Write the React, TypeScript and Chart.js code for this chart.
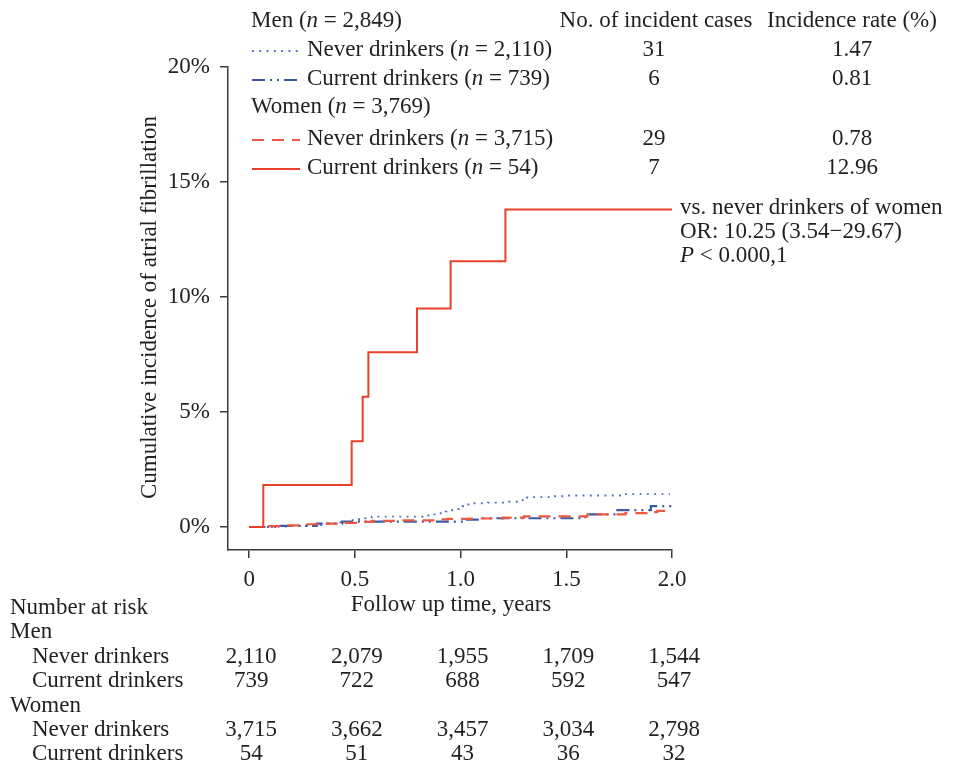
import React, { useEffect, useRef } from 'react';
import { Chart, registerables } from 'chart.js';
Chart.register(...registerables);

// ---- Data ----
const xTickValues = [0, 0.5, 1.0, 1.5, 2.0];
const yTickValues = [0, 5, 10, 15, 20];

// Women, current drinkers (cumulative incidence, %)
const womenCurrentT = [0, 0.067, 0.485, 0.537, 0.564, 0.794, 0.953, 1.212, 2.0];
const womenCurrentV = [0, 1.83, 3.73, 5.66, 7.6, 9.5, 11.55, 13.8, 13.8];
// Women, never drinkers
const womenNeverT = [0, 0.07, 0.18, 0.26, 0.34, 0.44, 0.52, 0.58, 0.7, 0.88, 0.94, 1.05, 1.2, 1.3, 1.6, 1.78, 1.88, 1.93, 2.0];
const womenNeverV = [0, 0.04, 0.07, 0.12, 0.15, 0.18, 0.22, 0.27, 0.29, 0.33, 0.35, 0.37, 0.41, 0.46, 0.55, 0.6, 0.65, 0.7, 0.7];
// Men, current drinkers
const menCurrentT = [0, 0.15, 0.32, 0.44, 1.03, 1.09, 1.59, 1.735, 1.9, 2.0];
const menCurrentV = [0, 0.05, 0.15, 0.23, 0.32, 0.38, 0.55, 0.73, 0.91, 0.91];
// Men, never drinkers
const menNeverT = [0, 0.12, 0.2, 0.28, 0.36, 0.42, 0.47, 0.52, 0.58, 0.82, 0.86, 0.89, 0.93, 0.96, 0.99, 1.01, 1.03, 1.06, 1.13, 1.23, 1.27, 1.3, 1.33, 1.43, 1.5, 1.77, 1.99];
const menNeverV = [0, 0.02, 0.05, 0.08, 0.15, 0.2, 0.3, 0.38, 0.45, 0.5, 0.55, 0.6, 0.67, 0.73, 0.78, 0.9, 0.98, 1.03, 1.06, 1.1, 1.16, 1.28, 1.3, 1.34, 1.37, 1.43, 1.43];

// Legend / summary table
const groupHeaders = ['Men', 'Women'];
const groupN = ['2,849', '3,769'];
const seriesLabels = ['Never drinkers', 'Current drinkers', 'Never drinkers', 'Current drinkers'];
const seriesN = ['2,110', '739', '3,715', '54'];
const incidentCases = ['31', '6', '29', '7'];
const incidenceRates = ['1.47', '0.81', '0.78', '12.96'];

// Number at risk
const riskMenNever = ['2,110', '2,079', '1,955', '1,709', '1,544'];
const riskMenCurrent = ['739', '722', '688', '592', '547'];
const riskWomenNever = ['3,715', '3,662', '3,457', '3,034', '2,798'];
const riskWomenCurrent = ['54', '51', '43', '36', '32'];

const annotationLines = ['vs. never drinkers of women', 'OR: 10.25 (3.54\u221229.67)'];
const pValueText = ' < 0.000,1';

// ---- Styles ----
const FONT = '"Liberation Serif", "Times New Roman", serif';
const FS = 23;
const TEXT = '#231f20';
const AXIS = '#3a3a3a';
const RED = '#e8402a';
const RED_DASH = '#ee5840';
const BLUE_DD = '#3b5aa6';
const BLUE_DOT = '#4b6cc4';

const seriesStyles = [
  { color: BLUE_DOT, dash: [1.8, 5.5], width: 1.9 },
  { color: BLUE_DD, dash: [13, 5, 2, 5, 2, 5], width: 2.2 },
  { color: RED_DASH, dash: [12, 8], width: 2.2 },
  { color: RED, dash: [], width: 2 },
];

type Run = { t: string; i?: boolean };

function font(italic?: boolean) {
  return `${italic ? 'italic ' : ''}${FS}px ${FONT}`;
}

function drawRuns(ctx: CanvasRenderingContext2D, runs: Run[], x: number, y: number, align: 'left' | 'center' = 'left') {
  let total = 0;
  for (const r of runs) {
    ctx.font = font(r.i);
    total += ctx.measureText(r.t).width;
  }
  let cx = align === 'center' ? x - total / 2 : x;
  ctx.textAlign = 'left';
  ctx.textBaseline = 'middle';
  ctx.fillStyle = TEXT;
  for (const r of runs) {
    ctx.font = font(r.i);
    ctx.fillText(r.t, cx, y);
    cx += ctx.measureText(r.t).width;
  }
}

const textPlugin = {
  id: 'textPlugin',
  afterDraw(chart: any) {
    const ctx: CanvasRenderingContext2D = chart.ctx;
    const xs = chart.scales.x;
    const ys = chart.scales.y;
    const area = chart.chartArea;
    ctx.save();

    // Legend block
    const rowY = [21, 50, 79, 107, 139, 168];
    const legendX = 251;
    const sampleX0 = 252, sampleX1 = 300, labelX = 307;
    const casesX = 656, rateX = 852;
    drawRuns(ctx, [{ t: groupHeaders[0] + ' (' }, { t: 'n', i: true }, { t: ' = ' + groupN[0] + ')' }], legendX, rowY[0]);
    drawRuns(ctx, [{ t: 'No. of incident cases' }], casesX, rowY[0], 'center');
    drawRuns(ctx, [{ t: 'Incidence rate (%)' }], rateX, rowY[0], 'center');
    drawRuns(ctx, [{ t: groupHeaders[1] + ' (' }, { t: 'n', i: true }, { t: ' = ' + groupN[1] + ')' }], legendX, rowY[3]);
    const seriesRows = [rowY[1], rowY[2], rowY[4], rowY[5]];
    seriesRows.forEach((y, k) => {
      const st = seriesStyles[k];
      ctx.save();
      ctx.strokeStyle = st.color;
      ctx.lineWidth = st.width;
      ctx.setLineDash(st.dash);
      ctx.beginPath();
      ctx.moveTo(sampleX0, y + 1);
      ctx.lineTo(sampleX1, y + 1);
      ctx.stroke();
      ctx.restore();
      drawRuns(ctx, [{ t: seriesLabels[k] + ' (' }, { t: 'n', i: true }, { t: ' = ' + seriesN[k] + ')' }], labelX, y);
      drawRuns(ctx, [{ t: incidentCases[k] }], casesX - 2, y, 'center');
      drawRuns(ctx, [{ t: incidenceRates[k] }], rateX, y, 'center');
    });

    // Annotation
    const annX = 680;
    const annY0 = ys.getPixelForValue(womenCurrentV[womenCurrentV.length - 1]) - 2;
    drawRuns(ctx, [{ t: annotationLines[0] }], annX, annY0);
    drawRuns(ctx, [{ t: annotationLines[1] }], annX, annY0 + 24);
    drawRuns(ctx, [{ t: 'P', i: true }, { t: pValueText }], annX, annY0 + 48);

    // Axis titles
    drawRuns(ctx, [{ t: 'Follow up time, years' }], 451, 605, 'center');
    ctx.save();
    ctx.translate(150, (area.top + area.bottom) / 2 - 1);
    ctx.rotate(-Math.PI / 2);
    drawRuns(ctx, [{ t: 'Cumulative incidence of atrial fibrillation' }], 0, 0, 'center');
    ctx.restore();

    // Number at risk table
    const riskRows: { label: string; x: number; y: number; vals?: string[] }[] = [
      { label: 'Number at risk', x: 10, y: 608 },
      { label: 'Men', x: 10, y: 632 },
      { label: 'Never drinkers', x: 32, y: 657, vals: riskMenNever },
      { label: 'Current drinkers', x: 32, y: 681, vals: riskMenCurrent },
      { label: 'Women', x: 10, y: 706 },
      { label: 'Never drinkers', x: 32, y: 730, vals: riskWomenNever },
      { label: 'Current drinkers', x: 32, y: 754, vals: riskWomenCurrent },
    ];
    riskRows.forEach((r) => {
      drawRuns(ctx, [{ t: r.label }], r.x, r.y);
      if (r.vals) {
        r.vals.forEach((v, i) => {
          drawRuns(ctx, [{ t: v }], xs.getPixelForValue(xTickValues[i]) + 2, r.y, 'center');
        });
      }
    });
    ctx.restore();
  },
};

function mk(t: number[], v: number[]) {
  return t.map((tt, i) => ({ x: tt, y: v[i] }));
}

export default function App() {
  const ref = useRef<HTMLCanvasElement | null>(null);
  useEffect(() => {
    if (!ref.current) return;
    const ds = (data: any, k: number, order: number) => ({
      data,
      stepped: true,
      borderColor: seriesStyles[k].color,
      borderWidth: seriesStyles[k].width,
      borderDash: seriesStyles[k].dash,
      pointRadius: 0,
      fill: false,
      tension: 0,
      order,
    });
    const chart = new Chart(ref.current, {
      type: 'line',
      data: {
        datasets: [
          ds(mk(womenCurrentT, womenCurrentV), 3, 0),
          ds(mk(womenNeverT, womenNeverV), 2, 1),
          ds(mk(menCurrentT, menCurrentV), 1, 2),
          ds(mk(menNeverT, menNeverV), 0, 3),
        ],
      },
      options: {
        responsive: false,
        animation: false,
        events: [],
        layout: { padding: { left: 0, top: 67, right: 281, bottom: 0 } },
        plugins: { legend: { display: false }, tooltip: { enabled: false } },
        scales: {
          x: {
            type: 'linear',
            min: -0.1,
            max: 2.0,
            afterBuildTicks: (s: any) => { s.ticks = xTickValues.map((v) => ({ value: v })); },
            afterFit: (s: any) => { s.height = 214; },
            grid: { drawOnChartArea: false, drawTicks: true, tickLength: 8, color: AXIS, lineWidth: 1.5 },
            border: { display: true, color: AXIS, width: 1.5 },
            ticks: {
              autoSkip: false,
              maxRotation: 0,
              padding: 8,
              color: TEXT,
              font: { family: FONT, size: FS },
              callback: (v: any) => (Number(v) === 0 ? '0' : Number(v).toFixed(1)),
            },
          },
          y: {
            type: 'linear',
            min: -1.0,
            max: 20,
            afterBuildTicks: (s: any) => { s.ticks = yTickValues.map((v) => ({ value: v })); },
            afterFit: (s: any) => { s.width = 228; },
            grid: { drawOnChartArea: false, drawTicks: true, tickLength: 8, color: AXIS, lineWidth: 1.5 },
            border: { display: true, color: AXIS, width: 1.5 },
            ticks: {
              autoSkip: false,
              padding: 10,
              color: TEXT,
              font: { family: FONT, size: FS },
              callback: (v: any) => `${v}%`,
            },
          },
        },
      },
      plugins: [textPlugin],
    } as any);
    return () => chart.destroy();
  }, []);
  return (
    <div style={{ position: 'fixed', left: 0, top: 0, width: 953, height: 764, background: '#fff' }}>
      <canvas ref={ref} width={953} height={764} style={{ display: 'block', width: 953, height: 764 }} />
    </div>
  );
}
